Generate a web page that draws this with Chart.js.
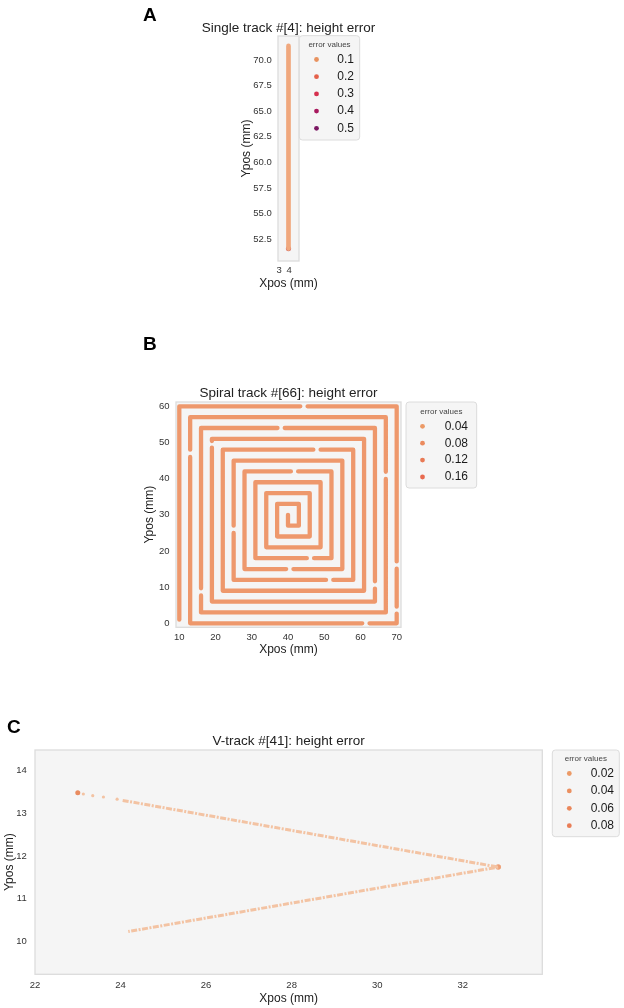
<!DOCTYPE html>
<html>
<head>
<meta charset="utf-8">
<script src="https://cdn.jsdelivr.net/npm/chart.js@4.4.1/dist/chart.umd.min.js"></script>
<style>
  html, body { margin: 0; padding: 0; background: #fff; }
  #page { position: relative; width: 624px; height: 1008px; overflow: hidden; }
  canvas { position: absolute; left: 0; }
</style>
</head>
<body>
<div id="page">
  <canvas id="chartA" style="top:0px"></canvas>
  <canvas id="chartB" style="top:320px"></canvas>
  <canvas id="chartC" style="top:690px"></canvas>
</div>
<script>
// ---- A: single track #[4] ----
const singleX = [3.93, 3.93];
const singleY = [71.36, 51.6];
const singleHotX = [3.93];
const singleHotY = [51.6];
const xTicksA = [3, 4];
const yTicksA = [52.5, 55.0, 57.5, 60.0, 62.5, 65.0, 67.5, 70.0];
const legendA = ['0.1', '0.2', '0.3', '0.4', '0.5'];

// ---- B: spiral track #[66] (vertices, null = gap in the track) ----
const spiralX = [10, 10, 43.4, null, 45.4, 70, 70, null, 70, 70, null, 70, 70,
  62.5, null, 60.5, 13, 13, null, 13, 13, 67, 67, null, 67, 67, 16, 16, null, 16, 16,
  37.1, null, 39.1, 64, 64, null, 64, 64, 19, 19, null, 19, 19, 61, 61, 22, 22,
  47, null, 49, 58, 58, 52.5, null, 50.5, 25, 25, null, 25, 25, 55, 55,
  41.5, null, 39.5, 28, 28, 40.8, null, 42.8, 52, 52, 47.2, null, 45.2, 31, 31,
  49, 49, 34, 34, 46, 46, 37, 37, 43, 43, 40, 40];
const spiralY = [1, 60, 60, null, 60, 60, 17.1, null, 15.1, 4.6, null, 2.7, 0,
  0, null, 0, 0, 46, null, 48, 57, 57, 41.9, null, 39.9, 3, 3, 7.7, null, 9.7, 54,
  54, null, 54, 54, 11.6, null, 9.6, 6, 6, 48.6, null, 50.4, 51, 51, 9, 9, 48,
  48, null, 48, 48, 12, 12, null, 12, 12, 25, null, 27, 45, 45, 15,
  15, null, 15, 15, 42, 42, null, 42, 42, 18, 18, null, 18, 18, 39,
  39, 21, 21, 36, 36, 24, 24, 33, 33, 27, 27, 30];
const xTicksB = [10, 20, 30, 40, 50, 60, 70];
const yTicksB = [0, 10, 20, 30, 40, 50, 60];
const legendB = ['0.04', '0.08', '0.12', '0.16'];

// ---- C: V-track #[41] ----
const vTrackX = [24.05, 32.83, 24.18];
const vTrackY = [13.30, 11.74, 10.23];
const vSparseX = [23.13, 23.35, 23.60, 23.92];
const vSparseY = [13.45, 13.41, 13.38, 13.33];
const vStartX = [23.0];
const vStartY = [13.48];
const vApexX = [32.83];
const vApexY = [11.74];
const xTicksC = [22, 24, 26, 28, 30, 32];
const yTicksC = [10, 11, 12, 13, 14];
const legendC = ['0.02', '0.04', '0.06', '0.08'];

const FONT = "'Liberation Sans', Arial, Helvetica, sans-serif";
Chart.defaults.font.family = FONT;
Chart.defaults.color = '#333';

function pts(xs, ys) {
  return xs.map((x, i) => ({ x: x, y: ys[i] }));
}

function decor(cfg) {
  return {
    id: 'panelDecor',
    beforeDraw(chart) {
      const { ctx, chartArea: a } = chart;
      ctx.save();
      ctx.fillStyle = '#f5f5f5';
      ctx.fillRect(a.left, a.top, a.right - a.left, a.bottom - a.top);
      ctx.strokeStyle = '#dcdcdc';
      ctx.lineWidth = 1.3;
      ctx.strokeRect(a.left, a.top, a.right - a.left, a.bottom - a.top);
      ctx.restore();
    },
    afterDraw(chart) {
      const { ctx, chartArea: a } = chart;
      const dy = cfg.top;
      ctx.save();
      ctx.fillStyle = '#000';
      ctx.font = 'bold 19px ' + FONT;
      ctx.textAlign = 'left';
      ctx.textBaseline = 'alphabetic';
      ctx.fillText(cfg.letter, cfg.letterX, cfg.letterY - dy);

      ctx.fillStyle = '#222';
      ctx.font = '13.5px ' + FONT;
      ctx.textAlign = 'center';
      ctx.textBaseline = 'middle';
      ctx.fillText(cfg.title, (a.left + a.right) / 2, cfg.titleY - dy);

      // axis titles
      ctx.font = '12px ' + FONT;
      ctx.fillText('Xpos (mm)', (a.left + a.right) / 2, cfg.xlabelY - dy);
      ctx.save();
      ctx.translate(cfg.ylabelX, (a.top + a.bottom) / 2);
      ctx.rotate(-Math.PI / 2);
      ctx.fillText('Ypos (mm)', 0, 0);
      ctx.restore();

      const lg = cfg.legend;
      ctx.beginPath();
      if (ctx.roundRect) ctx.roundRect(lg.x, lg.y - dy, lg.w, lg.h, 3);
      else ctx.rect(lg.x, lg.y - dy, lg.w, lg.h);
      ctx.fillStyle = '#f5f5f5';
      ctx.fill();
      ctx.strokeStyle = '#dcdcdc';
      ctx.lineWidth = 1;
      ctx.stroke();

      ctx.fillStyle = '#444';
      ctx.font = '8px ' + FONT;
      ctx.textAlign = 'center';
      ctx.fillText('error values', lg.x + lg.w / 2, lg.titleY - dy);

      ctx.font = '12px ' + FONT;
      ctx.textAlign = 'right';
      lg.labels.forEach((lab, i) => {
        const y = lg.itemY + i * lg.step - dy;
        ctx.beginPath();
        ctx.arc(lg.markerX, y, 2.4, 0, Math.PI * 2);
        ctx.fillStyle = lg.colors[i];
        ctx.fill();
        ctx.fillStyle = '#1a1a1a';
        ctx.fillText(lab, lg.textRight, y);
      });
      ctx.restore();
    }
  };
}

function makePanel(id, cfg) {
  const padLeft = cfg.ylabelX - 8;
  const yWidth = cfg.area.l - padLeft;
  const xBottom = cfg.xlabelY - cfg.top + 8;
  const xHeight = xBottom - (cfg.area.b - cfg.top);
  const canvas = document.getElementById(id);
  canvas.width = 624;
  canvas.height = cfg.height;
  return new Chart(canvas, {
    type: 'scatter',
    data: { datasets: cfg.datasets },
    options: {
      responsive: false,
      animation: false,
      events: [],
      layout: {
        padding: {
          left: padLeft,
          right: 624 - cfg.area.r,
          top: cfg.area.t - cfg.top,
          bottom: cfg.height - xBottom
        }
      },
      plugins: { legend: { display: false }, tooltip: { enabled: false } },
      scales: {
        x: {
          type: 'linear',
          min: cfg.xRange[0],
          max: cfg.xRange[1],
          grid: { display: false, drawTicks: false },
          border: { display: false },
          afterBuildTicks: s => { s.ticks = cfg.xTicks.map(v => ({ value: v })); },
          afterFit: s => { s.height = xHeight; },
          ticks: {
            padding: cfg.xTickPad, autoSkip: false, maxRotation: 0,
            font: { size: cfg.tickSize }, color: '#333',
            callback: v => String(v)
          }
        },
        y: {
          type: 'linear',
          min: cfg.yRange[0],
          max: cfg.yRange[1],
          grid: { display: false, drawTicks: false },
          border: { display: false },
          afterBuildTicks: s => { s.ticks = cfg.yTicks.map(v => ({ value: v })); },
          afterFit: s => { s.width = yWidth; },
          ticks: {
            padding: cfg.yTickPad, autoSkip: false,
            font: { size: cfg.tickSize }, color: '#333',
            callback: v => (cfg.yDecimals ? v.toFixed(cfg.yDecimals) : String(v))
          }
        }
      }
    },
    plugins: [decor(cfg)]
  });
}

makePanel('chartA', {
  top: 0, height: 300,
  area: { l: 278, r: 299, t: 36, b: 261 },
  ylabelX: 246.5, xlabelY: 284,
  xRange: [2.88, 4.98], yRange: [50.39, 72.33],
  xTicks: xTicksA, yTicks: yTicksA, yDecimals: 1,
  xTickPad: 3.5, yTickPad: 6.3, tickSize: 9.5,
  letter: 'A', letterX: 143, letterY: 20.5,
  title: 'Single track #[4]: height error', titleY: 28.3,
  legend: {
    x: 299.3, y: 35.7, w: 60.4, h: 104.3, titleY: 45,
    itemY: 59.5, step: 17.2, markerX: 316.5, textRight: 354,
    labels: legendA,
    colors: ['#e8925f', '#e4604a', '#d6304e', '#a8195e', '#7b1762']
  },
  datasets: [
    { data: pts(singleX, singleY), showLine: true, borderColor: 'rgb(240,168,126)',
      borderWidth: 4.7, borderCapStyle: 'round', pointRadius: 0 },
    { data: pts(singleHotX, singleHotY), showLine: false, pointRadius: 2.6,
      pointBackgroundColor: 'rgb(206,98,100)', pointBorderWidth: 0 }
  ]
});

makePanel('chartB', {
  top: 320, height: 345,
  area: { l: 176, r: 401, t: 402, b: 627.3 },
  ylabelX: 150, xlabelY: 650,
  xRange: [9.09, 71.19], yRange: [-1.1, 61.19],
  xTicks: xTicksB, yTicks: yTicksB, yDecimals: 0,
  xTickPad: 4.5, yTickPad: 6.5, tickSize: 9.5,
  letter: 'B', letterX: 143, letterY: 350,
  title: 'Spiral track #[66]: height error', titleY: 393.3,
  legend: {
    x: 406, y: 402, w: 70.7, h: 86, titleY: 411.3,
    itemY: 426.3, step: 16.9, markerX: 422.5, textRight: 468,
    labels: legendB,
    colors: ['#ec9a66', '#eb8b5e', '#e97a55', '#e86a4f']
  },
  datasets: [
    { data: pts(spiralX, spiralY), showLine: true, spanGaps: false,
      borderColor: 'rgb(238,152,108)', borderWidth: 4.3,
      borderCapStyle: 'round', borderJoinStyle: 'round', pointRadius: 0 }
  ]
});

makePanel('chartC', {
  top: 690, height: 318,
  area: { l: 35, r: 542.3, t: 750, b: 974.3 },
  ylabelX: 10, xlabelY: 998.5,
  xRange: [22, 33.86], yRange: [9.23, 14.48],
  xTicks: xTicksC, yTicks: yTicksC, yDecimals: 0,
  xTickPad: 5.7, yTickPad: 8.3, tickSize: 9.5,
  letter: 'C', letterX: 7, letterY: 733,
  title: 'V-track #[41]: height error', titleY: 741.7,
  legend: {
    x: 552.3, y: 750, w: 67, h: 86.7, titleY: 758.3,
    itemY: 773.5, step: 17.4, markerX: 569.3, textRight: 614,
    labels: legendC,
    colors: ['#ec9a66', '#eb9060', '#ea875b', '#e97d56']
  },
  datasets: [
    { data: pts(vTrackX, vTrackY), showLine: true, borderColor: 'rgb(243,195,163)',
      borderWidth: 3, borderDash: [6, 1.5, 2, 1.5], pointRadius: 0 },
    { data: pts(vSparseX, vSparseY), showLine: false, pointRadius: 1.6,
      pointBackgroundColor: 'rgb(243,195,163)', pointBorderWidth: 0 },
    { data: pts(vStartX, vStartY), showLine: false, pointRadius: 2.5,
      pointBackgroundColor: 'rgb(233,140,96)', pointBorderWidth: 0 },
    { data: pts(vApexX, vApexY), showLine: false, pointRadius: 2.8,
      pointBackgroundColor: 'rgb(238,160,118)', pointBorderWidth: 0 }
  ]
});
</script>
</body>
</html>
